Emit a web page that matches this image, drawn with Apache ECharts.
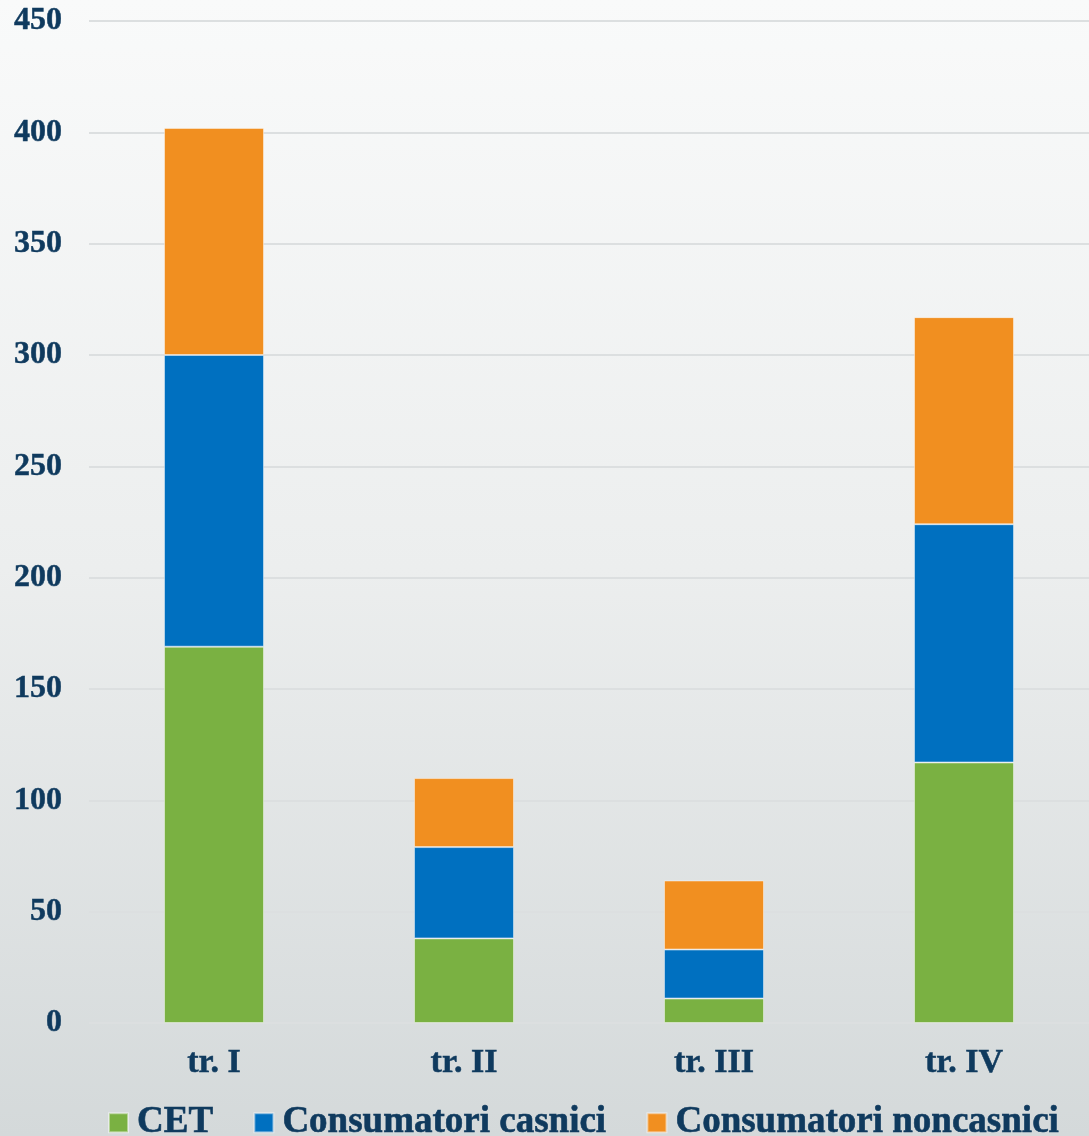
<!DOCTYPE html>
<html>
<head>
<meta charset="utf-8">
<script src="https://cdn.jsdelivr.net/npm/echarts@6/dist/echarts.min.js"></script>
<style>
  html, body { margin: 0; padding: 0; }
  #chart { width: 1089px; height: 1136px; }
</style>
</head>
<body>
<div id="chart"></div>
<script>
// 数据
const categories = ['tr. I', 'tr. II', 'tr. III', 'tr. IV'];
const cet = [169, 38, 11, 117];
const casnici = [131, 41, 22, 107];
const noncasnici = [102, 31, 31, 93];
const seriesNames = ['CET', 'Consumatori casnici', 'Consumatori noncasnici'];
const colors = ['#7ab142', '#0070c0', '#f18f20'];

const textColor = '#0f3a5e';
const fontFamily = '"Liberation Serif", "Times New Roman", serif';

const chart = echarts.init(document.getElementById('chart'));

const option = {
    backgroundColor: new echarts.graphic.LinearGradient(0, 0, 0, 1, [
        { offset: 0, color: '#f9fafa' },
        { offset: 0.5, color: '#eceeee' },
        { offset: 1, color: '#d4d9da' }
    ]),
    animation: false,
    grid: {
        left: 89,
        right: 0,
        top: 21,
        bottom: 113,
        containLabel: false
    },
    legend: {
        top: 1104,
        left: 108,
        padding: 0,
        itemWidth: 19,
        itemHeight: 19,
        itemGap: 40,
        icon: 'rect',
        textStyle: {
            color: textColor,
            fontFamily: fontFamily,
            fontWeight: 'bold',
            fontSize: 37,
            padding: [0, 0, 0, 4],
            textBorderColor: textColor,
            textBorderWidth: 0.6
        },
        data: seriesNames
    },
    xAxis: {
        type: 'category',
        data: categories,
        axisLine: { show: false },
        axisTick: { show: false },
        axisLabel: {
            color: textColor,
            fontFamily: fontFamily,
            fontWeight: 'bold',
            fontSize: 34,
            margin: 23,
            textBorderColor: textColor,
            textBorderWidth: 0.5
        }
    },
    yAxis: {
        type: 'value',
        min: 0,
        max: 450,
        interval: 50,
        axisLine: { show: false },
        axisTick: { show: false },
        axisLabel: {
            color: textColor,
            fontFamily: fontFamily,
            fontWeight: 'bold',
            fontSize: 32,
            margin: 27,
            textBorderColor: textColor,
            textBorderWidth: 0.5
        },
        splitLine: {
            lineStyle: { color: '#dcdfe0', width: 2 }
        }
    },
    series: [cet, casnici, noncasnici].map((vals, i) => ({
        name: seriesNames[i],
        type: 'bar',
        stack: 'total',
        barWidth: 100,
        data: vals,
        itemStyle: {
            color: colors[i],
            borderColor: 'rgba(255,255,255,0.45)',
            borderWidth: 1
        }
    }))
};

chart.setOption(option);
</script>
</body>
</html>
